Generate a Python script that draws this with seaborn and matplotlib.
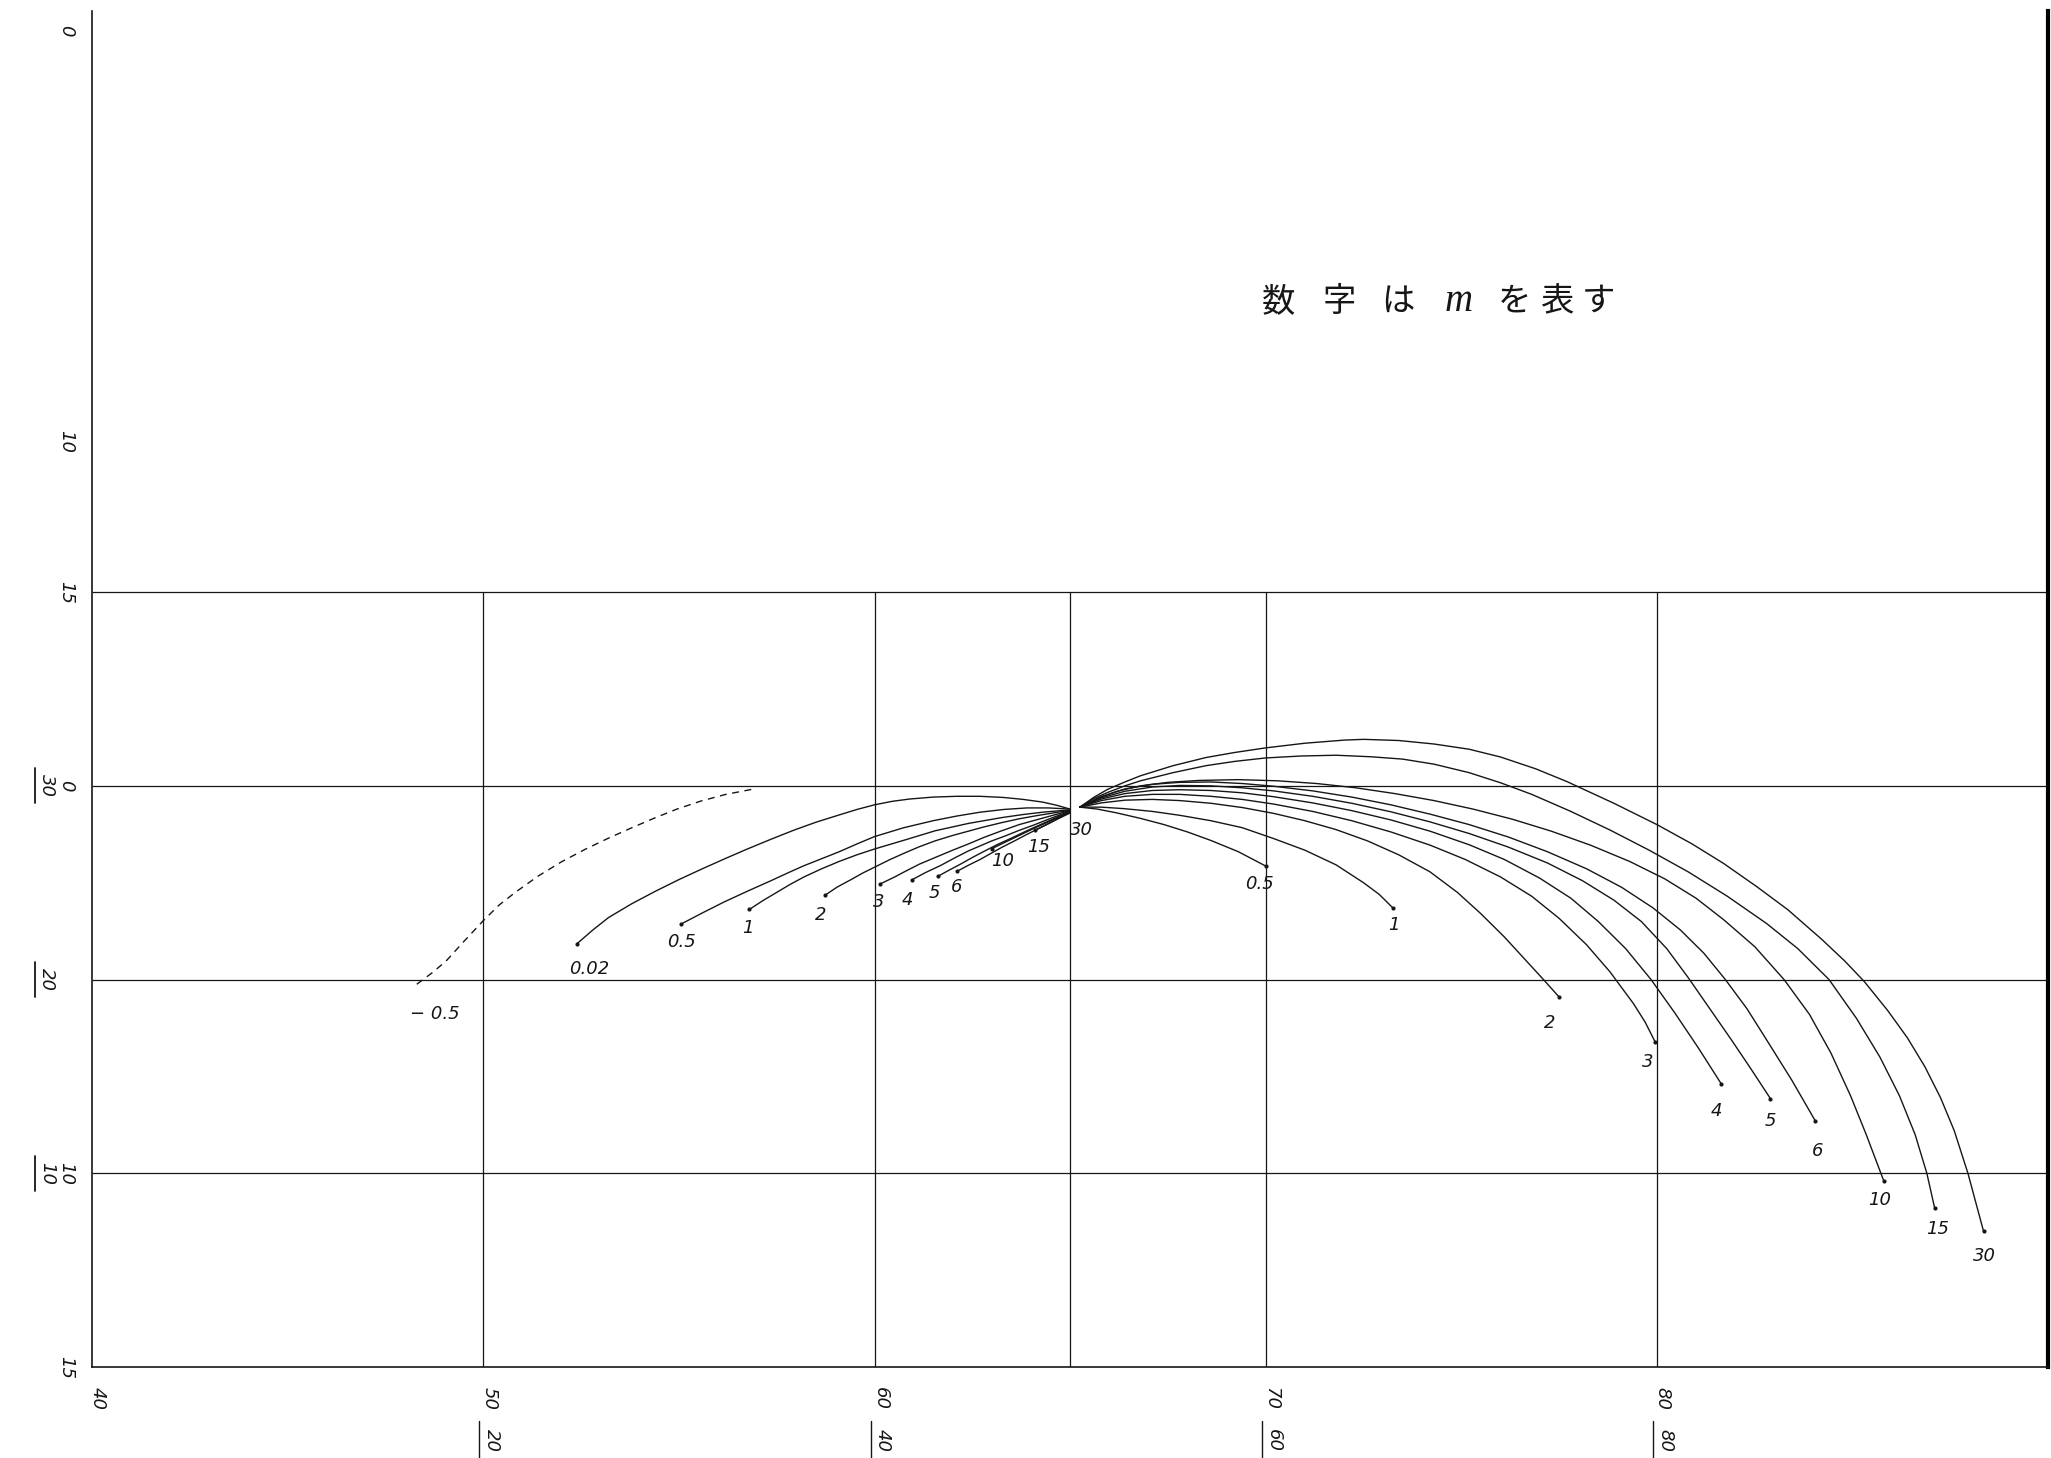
import matplotlib
matplotlib.use("Agg")
import numpy as np
import pandas as pd
import matplotlib.pyplot as plt
import seaborn as sns

# ---------------- data ----------------
# left-hand branches (end point first, running into the common point)
left_m = ["0.02", "0.5", "1", "2", "3", "4", "5", "6", "10", "15", "30"]
left_x = [
    [52.4, 52.8, 53.2, 53.8, 54.4, 55.0, 55.6, 56.2, 56.75, 57.35, 57.95, 58.5, 59.1, 59.55,
     60.0, 60.45, 60.9, 61.5, 62.1, 62.7, 63.3, 63.8, 64.3, 64.65, 65.0],
    [55.05, 55.6, 56.15, 56.75, 57.35, 57.8, 58.2, 58.65, 59.1, 59.55, 60.0, 60.75, 61.5,
     62.1, 62.7, 63.3, 63.9, 64.45, 65.0],
    [56.8, 57.15, 57.5, 57.85, 58.2, 58.65, 59.1, 59.55, 60.0, 60.8, 61.55, 62.4, 63.25,
     63.8, 64.3, 65.0],
    [58.74, 59.05, 59.4, 59.7, 60.0, 60.4, 60.8, 61.15, 61.55, 62.0, 62.4, 62.8, 63.25,
     63.7, 64.2, 65.0],
    [60.15, 60.5, 60.8, 61.15, 61.55, 62.0, 62.4, 62.8, 63.25, 63.7, 64.2, 65.0],
    [60.95, 61.3, 61.7, 62.05, 62.4, 62.7, 63.0, 63.35, 63.67, 64.05, 64.4, 65.0],
    [61.63, 61.9, 62.2, 62.5, 62.82, 63.15, 63.5, 63.85, 64.2, 64.6, 65.0],
    [62.1, 62.4, 62.7, 63.0, 63.25, 63.6, 63.9, 64.2, 64.5, 65.0],
    [63.0, 63.35, 63.7, 64.05, 64.4, 65.0],
    [64.1, 64.55, 65.0],
    [64.75, 65.0],
]
left_y = [
    [4.07, 3.72, 3.40, 3.04, 2.72, 2.42, 2.14, 1.87, 1.63, 1.38, 1.14, 0.94, 0.75, 0.61,
     0.49, 0.40, 0.34, 0.29, 0.27, 0.27, 0.3, 0.35, 0.42, 0.5, 0.6],
    [3.57, 3.28, 3.0, 2.72, 2.45, 2.24, 2.06, 1.88, 1.7, 1.5, 1.31, 1.08, 0.9, 0.78, 0.68,
     0.61, 0.57, 0.57, 0.6],
    [3.19, 2.96, 2.75, 2.54, 2.35, 2.14, 1.95, 1.78, 1.63, 1.39, 1.16, 0.97, 0.82, 0.74,
     0.68, 0.62],
    [2.82, 2.61, 2.42, 2.25, 2.1, 1.9, 1.72, 1.57, 1.42, 1.28, 1.17, 1.06, 0.95, 0.85,
     0.76, 0.63],
    [2.53, 2.36, 2.2, 2.02, 1.85, 1.66, 1.5, 1.33, 1.16, 1.0, 0.86, 0.64],
    [2.43, 2.24, 2.05, 1.86, 1.68, 1.55, 1.42, 1.29, 1.16, 1.02, 0.88, 0.65],
    [2.33, 2.18, 2.02, 1.85, 1.68, 1.51, 1.35, 1.18, 1.02, 0.84, 0.66],
    [2.21, 2.05, 1.9, 1.73, 1.59, 1.41, 1.25, 1.1, 0.95, 0.67],
    [1.62, 1.45, 1.28, 1.11, 0.95, 0.68],
    [1.15, 0.92, 0.7],
    [0.8, 0.66],
]

# right-hand branches (common point first, running out to the end point)
right_m = ["0.5", "1", "2", "3", "4", "5", "6", "10", "15", "30"]
right_x = [
    [65.25, 65.7, 66.2, 66.8, 67.4, 68.0, 68.6, 69.3, 70.0],
    [65.25, 65.8, 66.4, 67.1, 67.8, 68.6, 69.4, 70.2, 71.0, 71.8, 72.5, 72.9, 73.25],
    [65.25, 65.8, 66.4, 67.1, 67.8, 68.6, 69.4, 70.2, 71.0, 71.8, 72.6, 73.4, 74.2, 74.9,
     75.5, 76.1, 76.6, 77.1, 77.5],
    [65.25, 65.8, 66.4, 67.1, 67.8, 68.6, 69.4, 70.2, 71.2, 72.2, 73.2, 74.2, 75.1, 76.0,
     76.8, 77.5, 78.2, 78.8, 79.4, 79.7, 79.95],
    [65.25, 65.8, 66.4, 67.1, 67.8, 68.6, 69.4, 70.2, 71.2, 72.2, 73.2, 74.2, 75.2, 76.1,
     77.0, 77.8, 78.5, 79.2, 79.85, 80.45, 81.05, 81.65],
    [65.25, 65.8, 66.4, 67.1, 67.8, 68.6, 69.4, 70.2, 71.2, 72.2, 73.2, 74.2, 75.2, 76.2,
     77.2, 78.1, 78.9, 79.6, 80.25, 80.8, 81.35, 81.9, 82.4, 82.9],
    [65.25, 65.8, 66.4, 67.1, 67.8, 68.6, 69.4, 70.2, 71.2, 72.2, 73.2, 74.2, 75.2, 76.2,
     77.2, 78.2, 79.1, 79.9, 80.6, 81.2, 81.75, 82.3, 82.8, 83.45, 84.05],
    [65.25, 65.7, 66.2, 66.8, 67.5, 68.3, 69.3, 70.3, 71.3, 72.3, 73.3, 74.3, 75.3, 76.3,
     77.3, 78.3, 79.3, 80.2, 81.0, 81.7, 82.5, 83.25, 83.9, 84.45, 84.95, 85.35, 85.8],
    [65.25, 65.6, 65.96, 66.4, 66.8, 67.63, 68.47, 69.2, 70.0, 70.9, 71.8, 72.7, 73.5, 74.3,
     75.2, 76.0, 76.8, 77.8, 78.8, 79.8, 80.8, 81.8, 82.8, 83.6, 84.4, 85.1, 85.7, 86.2,
     86.6, 86.9, 87.1],
    [65.25, 65.6, 65.96, 66.4, 66.8, 67.63, 68.47, 69.2, 70.0, 71.0, 72.0, 72.5, 73.4, 74.3,
     75.2, 76.0, 76.9, 77.7, 78.9, 80.0, 80.9, 81.7, 82.55, 83.35, 84.2, 84.8, 85.3, 85.9,
     86.4, 86.85, 87.25, 87.6, 87.95, 88.35],
]
right_y = [
    [0.55, 0.6, 0.7, 0.84, 1.0, 1.19, 1.41, 1.7, 2.07],
    [0.55, 0.55, 0.59, 0.66, 0.76, 0.9, 1.08, 1.36, 1.66, 2.04, 2.5, 2.8, 3.15],
    [0.55, 0.44, 0.37, 0.35, 0.38, 0.45, 0.56, 0.71, 0.9, 1.13, 1.42, 1.78, 2.22, 2.75,
     3.3, 3.9, 4.45, 5.0, 5.45],
    [0.55, 0.38, 0.27, 0.22, 0.22, 0.27, 0.35, 0.47, 0.66, 0.9, 1.19, 1.53, 1.9, 2.35,
     2.85, 3.42, 4.1, 4.8, 5.62, 6.1, 6.6],
    [0.55, 0.34, 0.2, 0.12, 0.1, 0.12, 0.18, 0.28, 0.44, 0.64, 0.88, 1.17, 1.52, 1.9,
     2.38, 2.9, 3.5, 4.2, 5.0, 5.85, 6.75, 7.7],
    [0.55, 0.31, 0.14, 0.03, -0.01, 0.0, 0.05, 0.13, 0.27, 0.45, 0.67, 0.93, 1.23, 1.58,
     1.99, 2.45, 2.95, 3.5, 4.2, 4.95, 5.75, 6.55, 7.3, 8.07],
    [0.55, 0.28, 0.08, -0.04, -0.09, -0.1, -0.06, 0.01, 0.13, 0.29, 0.49, 0.73, 1.0, 1.32,
     1.7, 2.14, 2.62, 3.15, 3.72, 4.32, 5.0, 5.75, 6.55, 7.6, 8.65],
    [0.55, 0.32, 0.14, 0.0, -0.09, -0.14, -0.16, -0.13, -0.06, 0.05, 0.2, 0.38, 0.6, 0.86,
     1.17, 1.53, 1.95, 2.4, 2.9, 3.45, 4.15, 5.0, 5.9, 6.9, 8.0, 9.0, 10.2],
    [0.55, 0.33, 0.17, -0.0, -0.13, -0.34, -0.52, -0.63, -0.72, -0.77, -0.79, -0.75, -0.69,
     -0.56, -0.34, -0.08, 0.22, 0.66, 1.14, 1.66, 2.22, 2.85, 3.55, 4.2, 5.0, 6.0, 7.0,
     8.0, 9.0, 10.0, 10.9],
    [0.55, 0.30, 0.09, -0.10, -0.26, -0.52, -0.73, -0.86, -0.98, -1.10, -1.18, -1.20, -1.17,
     -1.08, -0.945, -0.745, -0.44, -0.11, 0.45, 1.0, 1.5, 2.0, 2.6, 3.2, 3.95, 4.52, 5.05,
     5.8, 6.5, 7.25, 8.05, 8.9, 10.0, 11.5],
]

# m = -0.5, drawn dashed
neg_x = [48.3, 48.7, 49.05, 49.5, 50.0, 50.4, 50.83, 51.4, 52.0, 52.6, 53.2, 53.8, 54.38,
         54.95, 55.57, 56.2, 56.87]
neg_y = [5.12, 4.82, 4.52, 4.02, 3.48, 3.08, 2.74, 2.33, 1.96, 1.64, 1.35, 1.08, 0.83,
         0.6, 0.39, 0.22, 0.09]

# label placement (x, y) for each curve's m value
left_lab_x = [52.7, 55.07, 56.77, 58.63, 60.1, 60.83, 61.53, 62.1, 63.27, 64.2, 65.3]
left_lab_y = [4.72, 4.02, 3.68, 3.34, 3.0, 2.94, 2.77, 2.6, 1.93, 1.59, 1.15]
right_lab_x = [69.83, 73.27, 77.27, 79.77, 81.53, 82.9, 84.1, 85.7, 87.17, 88.37]
right_lab_y = [2.53, 3.58, 6.11, 7.13, 8.38, 8.65, 9.43, 10.68, 11.45, 12.13]

# axis annotation values
x_tick_vals = [40, 50, 60, 70, 80]
x_tick_text = ["40", "50", "60", "70", "80"]
x_sub_vals = [50, 60, 70, 80]
x_sub_text = ["20", "40", "60", "80"]
y_tick_vals = [15, 10, 0, -5, -8.9, -19.5]
y_tick_text = ["15", "10", "0", "15", "10", "0"]
y_sub_vals = [0, 5, 10]
y_sub_text = ["30", "20", "10"]
grid_h = [-5, 0, 5, 10]
grid_v = [50, 60, 65, 70, 80]

# ---------------- build tables ----------------
rows = []
for m, xs, ys in zip(left_m, left_x, left_y):
    for x, y in zip(xs, ys):
        rows.append({"curve": f"L{m}", "x": x, "y": y})
for m, xs, ys in zip(right_m, right_x, right_y):
    for x, y in zip(xs, ys):
        rows.append({"curve": f"R{m}", "x": x, "y": y})
curves = pd.DataFrame(rows)
neg = pd.DataFrame({"curve": "N", "x": neg_x, "y": neg_y})
ends = pd.DataFrame({
    "x": [xs[0] for xs in left_x[:-1]] + [xs[-1] for xs in right_x],
    "y": [ys[0] for ys in left_y[:-1]] + [ys[-1] for ys in right_y],
})

# ---------------- figure ----------------
sns.set_theme(style="white")
plt.rcParams["font.family"] = ["DejaVu Sans"]

fig = plt.figure(figsize=(20.51, 14.58), dpi=100)
ax = fig.add_axes([0.0449, 0.0624, 0.9537, 0.9301])
ax.set_xlim(40, 90)
ax.set_ylim(15, -20)

ink = "#161616"
ax.hlines(grid_h, 40, 90, color=ink, lw=0.9, zorder=1)
ax.vlines(grid_v, -5, 15, color=ink, lw=0.9, zorder=1)

sns.lineplot(data=curves, x="x", y="y", units="curve", estimator=None, sort=False,
             color=ink, lw=1.0, ax=ax, legend=False)
sns.lineplot(data=neg, x="x", y="y", units="curve", estimator=None, sort=False,
             color=ink, lw=1.0, ax=ax, legend=False, linestyle=(0, (5, 4)))
sns.scatterplot(data=ends, x="x", y="y", color=ink, s=9, linewidth=0, ax=ax, zorder=3)

lab_kw = dict(fontsize=13, fontstyle="italic", color=ink, ha="center", va="center")
for t, x, y in zip(left_m, left_lab_x, left_lab_y):
    ax.text(x, y, t, **lab_kw)
for t, x, y in zip(right_m, right_lab_x, right_lab_y):
    ax.text(x, y, t, **lab_kw)
ax.text(48.75, 5.9, "− 0.5", **lab_kw)

# note in the upper panel
note_chars = ["数", "字", "は", "m", "を", "表", "す"]
note_x = [70.33, 71.87, 73.37, 74.93, 76.37, 77.43, 78.5]
for ch, x in zip(note_chars, note_x):
    if ch == "m":
        ax.text(x, -12.5, ch, fontsize=28, fontstyle="italic", family="Liberation Serif",
                color=ink, ha="center", va="center")
    else:
        ax.text(x, -12.5, ch, fontsize=24, family="Noto Sans CJK JP",
                color=ink, ha="center", va="center")

# frame
ax.spines["top"].set_visible(False)
for side in ["left", "bottom"]:
    ax.spines[side].set_color(ink)
    ax.spines[side].set_linewidth(1.2)
ax.spines["right"].set_color("#000000")
ax.spines["right"].set_linewidth(3.0)
ax.set_xticks([])
ax.set_yticks([])
ax.set_xlabel("")
ax.set_ylabel("")

# hand-lettered scale numbers, turned a quarter clockwise
tk = dict(fontsize=13, fontstyle="italic", color=ink, rotation=-90,
          ha="center", va="center", clip_on=False)
for v, t in zip(x_tick_vals, x_tick_text):
    ax.text(v + 0.15, 15.8, t, **tk)
for v, t in zip(x_sub_vals, x_sub_text):
    ax.text(v + 0.22, 16.9, t, **tk)
    ax.plot([v - 0.1, v - 0.1], [16.4, 17.4], color=ink, lw=1.0, clip_on=False)
for v, t in zip(y_tick_vals, y_tick_text):
    ax.text(39.33, v, t, **tk)
for v, t in zip(y_sub_vals, y_sub_text):
    ax.text(38.85, v, t, **tk)
    ax.plot([38.55, 38.55], [v - 0.45, v + 0.45], color=ink, lw=1.3, clip_on=False)

fig.savefig("out.png", dpi=100)
